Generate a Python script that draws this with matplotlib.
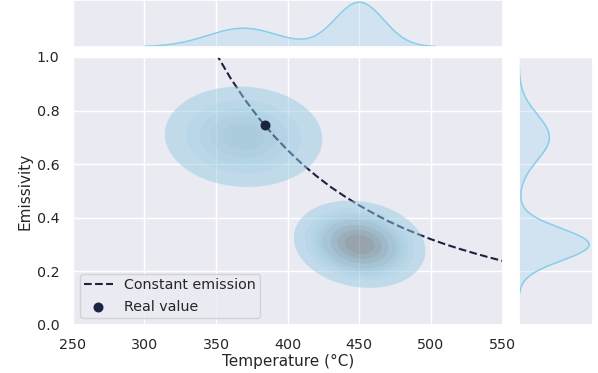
import numpy as np
import matplotlib
matplotlib.use("Agg")
import matplotlib.pyplot as plt
import seaborn as sns
from matplotlib.colors import ListedColormap, to_rgba
from seaborn.external import husl

# constant emission curve
curve_temp = [350, 360, 370, 380, 390, 400, 410, 420, 430, 440, 450,
              460, 470, 480, 490, 500, 510, 520, 530, 540, 550]
curve_emis = [1.013, 0.922, 0.842, 0.771, 0.708, 0.652, 0.601, 0.556, 0.515, 0.479, 0.446,
              0.416, 0.388, 0.363, 0.341, 0.320, 0.301, 0.284, 0.268, 0.253, 0.239]

# real value
real_temp = 384
real_emis = 0.745

# the two sample clouds, estimated from the contours
cloud_temp = [369, 450]
cloud_emis = [0.70, 0.30]
cloud_temp_sd = [25, 17]
cloud_emis_sd = [0.085, 0.06]
cloud_corr = [-0.05, -0.15]
cloud_weight = [0.38, 0.62]

# where the marginal curves stop
temp_support = [300, 503]
emis_support = [0.12, 1.0]

sns.set_theme(style="darkgrid")
plt.rcParams['font.family'] = ['DejaVu Sans']

navy = "#1b2341"
blue = "skyblue"


def gauss(x, m, s):
    return np.exp(-0.5 * ((x - m) / s) ** 2) / (s * np.sqrt(2 * np.pi))


def density_2d(T, E):
    z = np.zeros_like(T)
    for mt, me, st, se, r, w in zip(cloud_temp, cloud_emis, cloud_temp_sd,
                                     cloud_emis_sd, cloud_corr, cloud_weight):
        u = (T - mt) / st
        v = (E - me) / se
        q = (u ** 2 - 2 * r * u * v + v ** 2) / (1 - r ** 2)
        z += w * np.exp(-0.5 * q) / (2 * np.pi * st * se * np.sqrt(1 - r ** 2))
    return z


def cmap_from_color(color):
    r, g, b, _ = to_rgba(color)
    h, s, _ = husl.rgb_to_husl(r, g, b)
    xx = np.linspace(-1, 1, int(1.15 * 256))[:256]
    ramp = np.zeros((256, 3))
    ramp[:, 0] = h
    ramp[:, 1] = s * np.cos(xx)
    ramp[:, 2] = np.linspace(35, 80, 256)
    colors = np.clip([husl.husl_to_rgb(*hsl) for hsl in ramp], 0, 1)
    return ListedColormap(colors[::-1])


fig = plt.figure(figsize=(5.98, 3.73), dpi=100)
ax = fig.add_axes([0.1216, 0.1287, 0.719, 0.7185])
ax_top = fig.add_axes([0.1216, 0.8748, 0.719, 0.1252], sharex=ax)
ax_right = fig.add_axes([0.8679, 0.1287, 0.1232, 0.7185], sharey=ax)

# main panel
ax.plot(curve_temp, curve_emis, linestyle="--", color=navy, linewidth=1.5,
        label="Constant emission")

# banded density, drawn as one image so the bands have no seams
tt, ee = np.meshgrid(np.linspace(250, 550, 1300), np.linspace(0, 1, 1100))
zz = density_2d(tt, ee)
vals = np.sort(zz.ravel())[::-1]
cum = np.cumsum(vals) / vals.sum()
props = np.linspace(0.05, 1, 10)
levels = np.sort(np.take(vals, np.searchsorted(cum, 1 - props), mode="clip"))
mids = (levels[:-1] + levels[1:]) / 2
band_rgba = cmap_from_color(blue)((mids - levels[0]) / (levels[-1] - levels[0]))
band_rgba[:, 3] = 0.5
band = np.clip(np.digitize(zz, levels) - 1, 0, len(mids) - 1)
img = band_rgba[band]
img[zz < levels[0], 3] = 0
ax.imshow(img, extent=(250, 550, 0, 1), origin="lower", aspect="auto",
          interpolation="antialiased", zorder=2)

ax.scatter([real_temp], [real_emis], color=navy, s=38, zorder=5, label="Real value")

ax.set_xlim(250, 550)
ax.set_ylim(0, 1)
ax.set_xticks([250, 300, 350, 400, 450, 500, 550])
ax.set_yticks([0.0, 0.2, 0.4, 0.6, 0.8, 1.0])
ax.tick_params(labelsize=10.3)
ax.set_xlabel("Temperature (°C)", fontsize=11, labelpad=1)
ax.set_ylabel("Emissivity", fontsize=11, labelpad=3)
ax.legend(loc="lower left", fontsize=10.3, borderpad=0.3)

# marginals
tx = np.linspace(temp_support[0], temp_support[1], 400)
px = sum(w * gauss(tx, m, s) for m, s, w in zip(cloud_temp, cloud_temp_sd, cloud_weight))
ax_top.fill_between(tx, 0, px, color=blue, alpha=0.25, linewidth=0)
ax_top.plot(tx, px, color=blue, linewidth=1.1)
ax_top.set_ylim(0, px.max() * 1.05)

ey = np.linspace(emis_support[0], emis_support[1], 400)
py = sum(w * gauss(ey, m, s) for m, s, w in zip(cloud_emis, cloud_emis_sd, cloud_weight))
ax_right.fill_betweenx(ey, 0, py, color=blue, alpha=0.25, linewidth=0)
ax_right.plot(py, ey, color=blue, linewidth=1.1)
ax_right.set_xlim(0, py.max() * 1.05)

for a in (ax_top, ax_right):
    a.tick_params(labelbottom=False, labelleft=False, length=0)
ax_top.yaxis.grid(False)
ax_right.xaxis.grid(False)

fig.savefig("out.png", dpi=100)
